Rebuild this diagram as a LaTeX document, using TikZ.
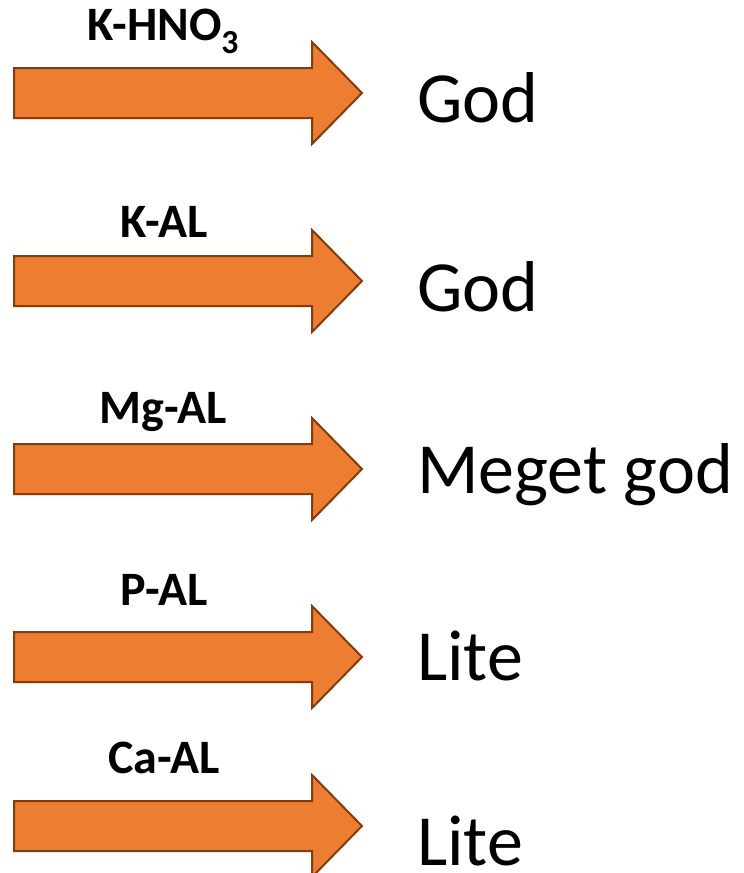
\documentclass[tikz,border=0pt]{standalone}
\usepackage{fontspec}
\setmainfont{Carlito}
\definecolor{arroworange}{HTML}{ED7D31}
\definecolor{arrowbrown}{HTML}{843C0C}
\begin{document}
\begin{tikzpicture}[x=1pt,y=-1pt,
  blockarrow/.style={fill=arroworange, draw=arrowbrown, line width=2pt, line join=miter},
  lbl/.style={font=\fontsize{48}{48}\bfseries\selectfont, anchor=base, inner sep=0pt},
  res/.style={font=\fontsize{72}{72}\selectfont, anchor=base west, inner sep=0pt, text depth=0pt}]
\useasboundingbox (0,0) rectangle (744,873);
\clip (0,0) rectangle (744,873);
\foreach \ty in {93,281,469,657,826} {
  \draw[blockarrow] (14,\ty-25) -- (312,\ty-25) -- (312,\ty-51) -- (362,\ty)
    -- (312,\ty+51) -- (312,\ty+25) -- (14,\ty+25) -- cycle;
}
\node[lbl] (l1) at (163,40) {K-HNO\textsubscript{3}};
\node[lbl] (l2) at (164,237) {K-AL};
\node[lbl] (l3) at (163,423) {Mg-AL};
\node[lbl] (l4) at (164,605) {P-AL};
\node[lbl] (l5) at (164,773) {Ca-AL};
\node[res] (r1) at (417,122) {God};
\node[res] (r2) at (417,311) {God};
\node[res] (r3) at (417,493) {Meget god};
\node[res] (r4) at (417,680) {Lite};
\node[res] (r5) at (417,865) {Lite};
\end{tikzpicture}
\end{document}
